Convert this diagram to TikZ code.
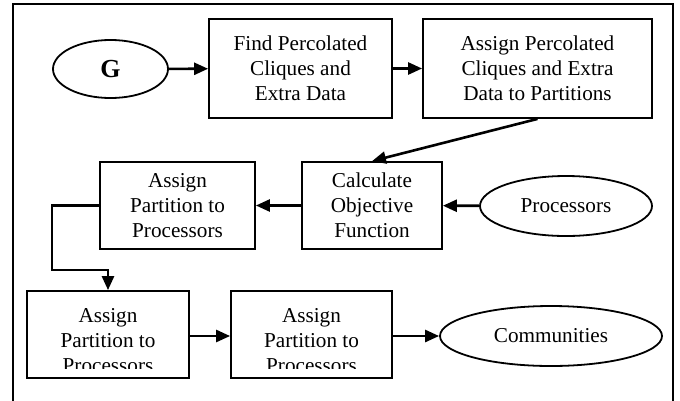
\documentclass[tikz,border=0pt]{standalone}
\usepackage{fontspec}
\setmainfont{Liberation Serif}
\usetikzlibrary{shapes.geometric,arrows.meta}
\tikzset{
  every node/.style={font=\fontsize{21.2pt}{25pt}\selectfont, align=center, inner sep=0pt},
  procbox/.style={draw, line width=1.8pt, rectangle},
  oval/.style={draw, line width=1.8pt, ellipse},
  flow/.style={line width=2.6pt, -{Triangle[length=14pt,width=12pt]}},
  frame/.style={line width=2.2pt}
}
\begin{document}
\begin{tikzpicture}[x=1pt,y=-1pt]
\useasboundingbox (0,0) rectangle (680,400);
\draw[frame] (13,402) -- (13,4) -- (673,4) -- (673,402);

\node[oval, minimum width=115pt, minimum height=58pt, font=\fontsize{26pt}{30pt}\selectfont\bfseries] (g) at (110.5,69) {G};
\node[procbox, minimum width=183pt, minimum height=99pt] (find) at (300.5,68.5) {Find Percolated\\Cliques and\\Extra Data};
\node[procbox, minimum width=229pt, minimum height=99pt] (assignpc) at (537.5,68.5) {Assign Percolated\\Cliques and Extra\\Data to Partitions};
\node[procbox, minimum width=140pt, minimum height=87pt] (calc) at (372,205.5) {Calculate\\Objective\\Function};
\node[procbox, minimum width=155pt, minimum height=87pt] (assignmid) at (177.5,205.5) {Assign\\Partition to\\Processors};
\node[oval, minimum width=172pt, minimum height=60pt] (proc) at (566,206) {Processors};

\node[procbox, minimum width=162pt, minimum height=87pt] (bota) at (108,334.5) {};
\node[procbox, minimum width=161pt, minimum height=87pt] (botb) at (311.5,334.5) {};
\begin{scope}
  \clip ([yshift=-1pt]bota.north west) rectangle ([yshift=10pt]bota.south east);
  \node (botatext) at ([yshift=-6pt]bota.center) {Assign\\Partition to\\Processors};
\end{scope}
\begin{scope}
  \clip ([yshift=-1pt]botb.north west) rectangle ([yshift=10pt]botb.south east);
  \node (botbtext) at ([yshift=-6pt]botb.center) {Assign\\Partition to\\Processors};
\end{scope}
\node[oval, minimum width=222pt, minimum height=60pt] (comm) at (551,336) {Communities};

\coordinate (e1) at (52,205.5);
\coordinate (e2) at (52,270);
\coordinate (e3) at (108,270);

\draw[flow] (g) -- (find);
\draw[flow] (find) -- (assignpc);
\draw[flow] (assignpc.south) -- (calc.north);
\draw[flow] (proc) -- (calc);
\draw[flow] (calc) -- (assignmid);
\draw[flow] (assignmid.west) -- (e1) -- (e2) -- (e3) -- (bota.north);
\draw[flow] (bota.east |- comm) -- (botb.west |- comm);
\draw[flow] (botb.east |- comm) -- (comm);
\end{tikzpicture}
\end{document}
